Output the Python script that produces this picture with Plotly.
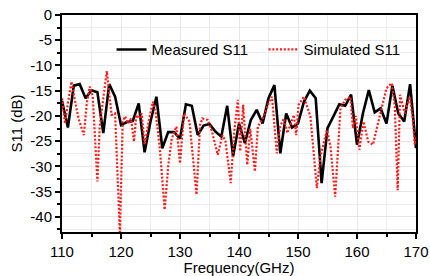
import plotly.graph_objects as go

# Measured S11 (1 GHz steps)
meas_freq = list(range(110, 171))
meas_s11 = [-17.0, -22.3, -14.0, -13.7, -16.5, -14.9, -15.3, -23.4, -13.7, -16.2,
            -21.8, -21.2, -21.0, -17.5, -27.2, -21.1, -16.2, -26.4, -23.2, -23.2,
            -24.5, -17.7, -18.0, -23.8, -21.9, -21.6, -23.1, -24.1, -18.0, -28.0,
            -21.5, -25.4, -20.8, -18.8, -21.5, -16.5, -13.9, -27.4, -19.5, -22.3,
            -21.5, -17.2, -15.0, -16.5, -33.3, -22.4, -20.1, -17.7, -18.0, -15.8,
            -25.7, -19.5, -14.9, -19.3, -18.5, -21.5, -14.0, -19.5, -21.1, -13.7,
            -26.4]

# Simulated S11
sim_freq = [110.0, 110.5, 111.0, 111.6, 112.2, 112.8, 113.7, 114.2, 114.7, 115.2,
            116.0, 116.4, 117.0, 117.6, 118.4, 119.0, 119.8, 120.3, 120.7, 121.2,
            121.7, 122.2, 122.6, 123.0, 123.5, 124.0, 124.7, 125.4, 125.9, 126.6,
            127.4, 128.0, 128.6, 129.4, 130.0, 130.7, 131.6, 132.1, 132.8, 133.4,
            133.8, 134.7, 135.4, 136.4, 137.2, 137.7, 138.6, 139.2, 139.8, 140.2,
            140.7, 141.4, 141.9, 142.7, 143.2, 144.2, 145.0, 145.6, 146.4, 147.0,
            147.6, 148.2, 149.3, 149.7, 150.1, 151.0, 152.1, 153.2, 153.8, 154.9,
            155.5, 156.3, 157.2, 158.0, 158.9, 159.3, 159.8, 160.4, 161.1, 161.9,
            162.7, 163.9, 165.0, 165.9, 166.4, 166.9, 167.3, 168.1, 168.9, 169.4,
            169.8, 170.0]
sim_s11 = [-16.5, -21.5, -17.5, -13.2, -17.0, -20.5, -23.8, -17.5, -14.2, -16.0,
           -33.0, -22.0, -16.5, -11.1, -19.8, -19.5, -43.0, -21.1, -20.1, -21.5,
           -20.5, -25.1, -19.8, -20.5, -19.5, -25.7, -21.0, -17.2, -19.5, -26.7,
           -38.6, -30.0, -24.5, -22.1, -29.4, -19.5, -21.1, -27.0, -35.6, -21.8,
           -20.5, -20.8, -23.0, -27.7, -23.8, -25.0, -33.3, -23.1, -16.8, -27.0,
           -17.8, -29.7, -22.5, -31.0, -22.1, -20.1, -17.5, -16.2, -27.4, -22.0,
           -20.5, -23.4, -19.8, -23.8, -17.8, -16.2, -20.1, -34.3, -28.0, -22.8,
           -26.0, -36.0, -18.5, -16.8, -16.2, -22.4, -20.0, -26.7, -21.1, -25.1,
           -25.7, -19.8, -14.5, -13.5, -18.0, -34.7, -15.8, -19.5, -16.2, -20.0,
           -25.7, -24.0]

y_tickvals = [0, -5, -10, -15, -20, -25, -30, -35, -40]
y_ticktext = ["0", "-5", "-10", "-15", "-20", "-25", "-30", "-35", "-40"]
x_tickvals = [110, 120, 130, 140, 150, 160, 170]

FONT = "Liberation Sans, Arial, sans-serif"

fig = go.Figure()
fig.add_trace(go.Scatter(x=meas_freq, y=meas_s11, mode="lines", name="Measured S11",
                         line=dict(color="black", width=2.6)))
fig.add_trace(go.Scatter(x=sim_freq, y=sim_s11, mode="lines", name="Simulated S11",
                         line=dict(color="#ff1a1a", width=2.2, dash="2px,1.8px")))

fig.update_layout(
    width=430, height=276,
    margin=dict(l=62, r=14, t=15, b=44, autoexpand=False),
    paper_bgcolor="white", plot_bgcolor="white",
    font=dict(family=FONT, color="black", size=14),
    showlegend=True,
    legend=dict(orientation="h", x=0.14, y=0.84, xanchor="left", yanchor="middle",
                bgcolor="rgba(0,0,0,0)", font=dict(size=15), entrywidth=107,
                itemwidth=30),
    xaxis=dict(range=[110, 170], tickvals=x_tickvals, ticks="outside", ticklen=5,
               tickwidth=1.5, tickcolor="black", automargin=False,
               showline=True, linewidth=2, linecolor="black", mirror=True,
               showgrid=True, gridcolor="#e6e6e6", gridwidth=1,
               minor=dict(dtick=5, ticks="outside", ticklen=3, tickcolor="black",
                          showgrid=True, gridcolor="#ececec"),
               zeroline=False, tickfont=dict(size=15),
               title=dict(text="Frequency(GHz)", font=dict(size=15), standoff=0)),
    yaxis=dict(range=[-43, 0], tickvals=y_tickvals, ticktext=y_ticktext,
               ticks="outside", ticklen=5, tickwidth=1.5, tickcolor="black",
               automargin=False,
               showline=True, linewidth=2, linecolor="black", mirror=True,
               showgrid=True, gridcolor="#e6e6e6", gridwidth=1,
               minor=dict(dtick=2.5, tick0=0, ticks="outside", ticklen=3, tickcolor="black",
                          showgrid=True, gridcolor="#ececec"),
               zeroline=False, tickfont=dict(size=15),
               title=dict(text="S11 (dB)", font=dict(size=15), standoff=4)),
)

fig.write_html("out.html", config={"displayModeBar": False},
               post_script="document.body.style.margin='0';document.body.style.padding='0';")
